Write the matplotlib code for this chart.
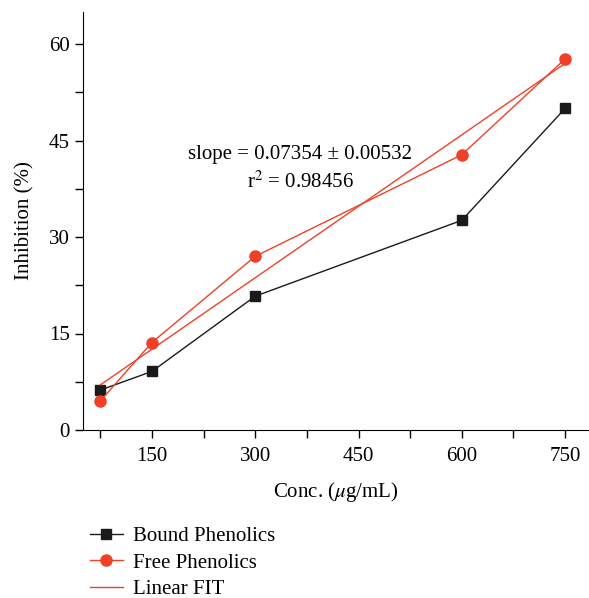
import numpy as np
import matplotlib.pyplot as plt
from matplotlib.ticker import MultipleLocator

plt.rcParams['font.family'] = ['Liberation Serif', 'DejaVu Serif']
plt.rcParams['mathtext.fontset'] = 'stix'

# data
conc = [75, 150, 300, 600, 750]
bound = [6.2, 9.1, 20.8, 32.6, 50.0]
free = [4.5, 13.6, 27.0, 42.8, 57.7]
fit_x = [75, 750]
fit_y = [7.0, 57.0]

red = '#EE4128'
black = '#1a1a1a'

fig = plt.figure(figsize=(5.89, 5.98), dpi=100)
ax = fig.add_axes([0.141, 0.281, 0.857, 0.699])

ax.plot(conc, bound, color=black, lw=1.0, marker='s', ms=7, label='Bound Phenolics')
ax.plot(conc, free, color=red, lw=1.0, marker='o', ms=8, label='Free Phenolics')
ax.plot(fit_x, fit_y, color=red, lw=1.0, label='Linear FIT')

ax.text(365, 42.9, 'slope = 0.07354 ± 0.00532', ha='center', va='center', fontsize=15)
ax.text(365, 38.6, 'r$^2$ = 0.98456', ha='center', va='center', fontsize=15)

ax.set_xlim(50, 783)
ax.set_ylim(0, 65)
ax.xaxis.set_major_locator(MultipleLocator(150))
ax.xaxis.set_minor_locator(MultipleLocator(75))
ax.yaxis.set_major_locator(MultipleLocator(15))
ax.yaxis.set_minor_locator(MultipleLocator(7.5))
ax.tick_params(which='both', direction='out', length=6, width=1, labelsize=15)
ax.tick_params(axis='x', pad=6)
ax.spines['top'].set_visible(False)
ax.spines['right'].set_visible(False)

ax.set_xlabel('Conc. ($\\mu$g/mL)', fontsize=15, labelpad=10)
ax.set_ylabel('Inhibition (%)', fontsize=15, labelpad=10)

handles, labels = ax.get_legend_handles_labels()
fig.legend(handles, labels, loc='upper left', bbox_to_anchor=(0.138, 0.133),
           frameon=False, fontsize=15, handlelength=1.6, labelspacing=0.32,
           borderaxespad=0, handletextpad=0.5)

fig.savefig('out.png', dpi=100)
